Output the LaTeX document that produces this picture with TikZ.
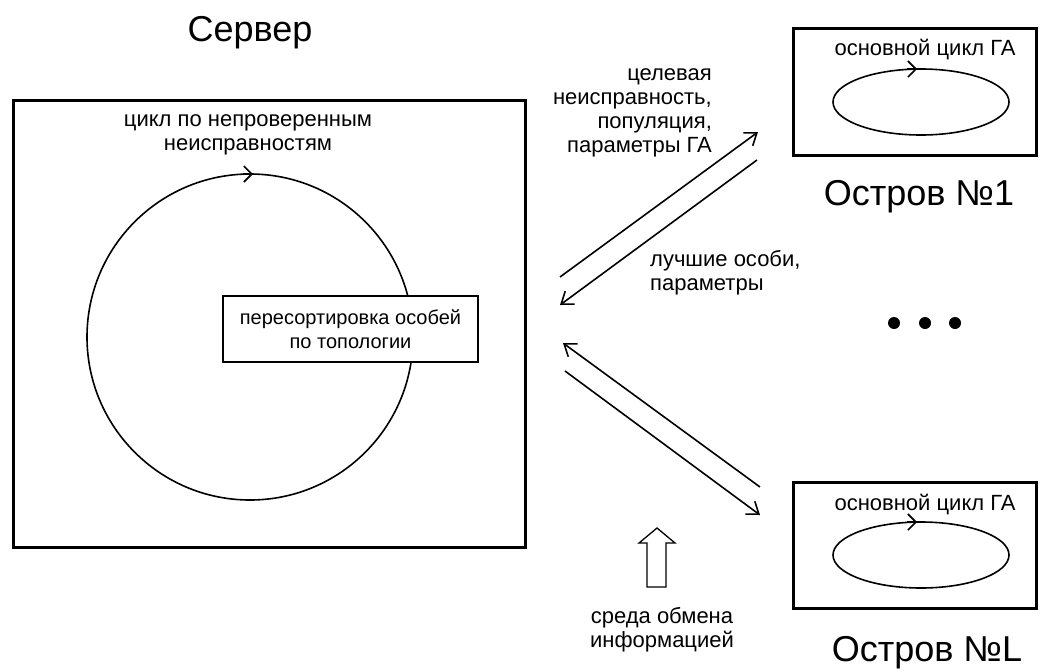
\documentclass[tikz,border=0pt]{standalone}
\usepackage{fontspec}
\setmainfont{Liberation Sans}
\usetikzlibrary{arrows.meta}
\begin{document}
\begin{tikzpicture}[x=1pt,y=-1pt,
  small/.style={font=\fontsize{22}{24}\selectfont, inner sep=0pt},
  big/.style={font=\fontsize{36}{40}\selectfont, inner sep=0pt, anchor=base},
  frame/.style={draw, line width=3pt},
  loop/.style={line width=1.6pt},
  tip/.style={line width=1.6pt, -{Straight Barb[length=8pt,width=16pt,line width=1.6pt]}},
  link/.style={line width=1.6pt, -{Straight Barb[length=11pt,width=16pt,line width=1.6pt]}},
]
\useasboundingbox (0,0) rectangle (1044,670);

% server
\node[big] (srvlabel) at (250,41) {Сервер};
\node[frame, minimum width=512pt, minimum height=447pt] (server) at (269,323.5) {};
\node[small, anchor=base, align=center] (srvloop) at (248,150) {цикл по непроверенным\\неисправностям};
\coordinate (srvc) at (250,337);
\draw[loop] (srvc) circle[radius=163pt];
\draw[tip] (243,174) -- (253,174);
\node[draw, line width=2pt, fill=white, minimum width=255pt, minimum height=66pt,
      small, font=\fontsize{20}{24}\selectfont, align=center] (resort) at (350.5,329)
      {пересортировка особей\\по топологии};

% islands
\node[frame, minimum width=243pt, minimum height=127pt] (isl1) at (914.5,91.5) {};
\node[small, anchor=base] (isl1txt) at (925,55) {основной цикл ГА};
\draw[loop] (921,102) ellipse[x radius=88pt, y radius=33pt];
\draw[tip] (907,69) -- (917,69);
\node[big] (isl1label) at (919,205) {Остров №1};

\node[frame, minimum width=243pt, minimum height=126pt] (isl2) at (914.5,545) {};
\node[small, anchor=base] (isl2txt) at (925,510) {основной цикл ГА};
\draw[loop] (921,555) ellipse[x radius=88pt, y radius=33pt];
\draw[tip] (907,522) -- (917,522);
\node[big] (isl2label) at (927,661) {Остров №L};

% ellipsis between islands
\fill (894,323) circle[radius=6pt];
\fill (925,323) circle[radius=6pt];
\fill (955,323) circle[radius=6pt];

% exchange links
\coordinate (a1s) at (560,277); \coordinate (a1e) at (758,132);
\coordinate (a2s) at (757,160); \coordinate (a2e) at (560,305);
\coordinate (a3s) at (760,487); \coordinate (a3e) at (563,343);
\coordinate (a4s) at (565,371); \coordinate (a4e) at (760,515);
\draw[link] (a1s) -- (a1e);
\draw[link] (a2s) -- (a2e);
\draw[link] (a3s) -- (a3e);
\draw[link] (a4s) -- (a4e);

\node[small, anchor=base east, align=right] (sendtxt) at (712,152)
  {целевая\\неисправность,\\популяция,\\параметры ГА};
\node[small, anchor=base west, align=left] (backtxt) at (650,290)
  {лучшие особи,\\параметры};

% exchange medium
\draw[line width=1.3pt, fill=white] (647,587) -- (647,543) -- (639,543) -- (657,528)
  -- (675,543) -- (666,543) -- (666,587) -- cycle;
\node[small, anchor=base, align=center] (medium) at (662,647) {среда обмена\\информацией};
\end{tikzpicture}
\end{document}
